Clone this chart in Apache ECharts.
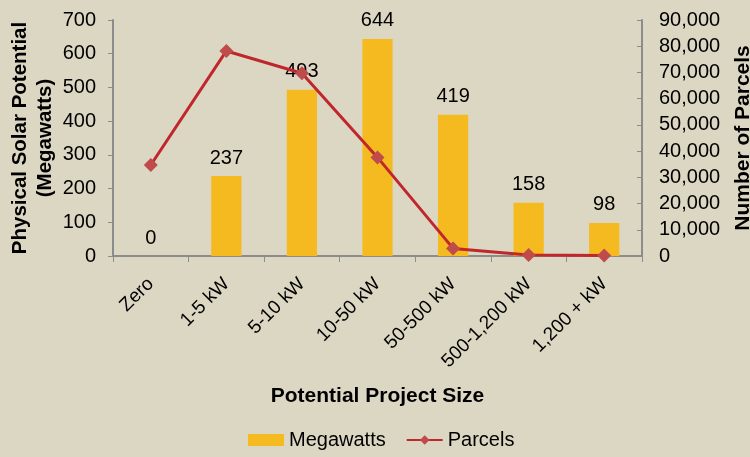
<!DOCTYPE html>
<html>
<head>
<meta charset="utf-8">
<script src="https://cdn.jsdelivr.net/npm/echarts@6/dist/echarts.min.js"></script>
<style>
  html, body { margin: 0; padding: 0; background: #dcd7c3; }
  #chart { width: 750px; height: 457px; }
</style>
</head>
<body>
<div id="chart"></div>
<script>
// chart data
var categories = ["Zero", "1-5 kW", "5-10 kW", "10-50 kW", "50-500 kW", "500-1,200 kW", "1,200 + kW"];
var megawatts = [0, 237, 493, 644, 419, 158, 98];
var parcels = [34700, 78200, 69700, 37600, 2900, 400, 200];

var font = "Liberation Sans, Arial, sans-serif";
var axisColor = "#8c8c8c";

var myChart = echarts.init(document.getElementById("chart"));
var option = {
  backgroundColor: "#dcd7c3",
  textStyle: { fontFamily: font },
  legend: {
    bottom: 2,
    left: 243,
    itemGap: 20,
    itemWidth: 36,
    itemHeight: 12,
    textStyle: { fontSize: 20, color: "#000", fontFamily: font },
    data: [
      { name: "Megawatts", icon: "rect" },
      { name: "Parcels" }
    ]
  },
  grid: {
    left: 113,
    right: 108,
    top: 20,
    bottom: 201,
    containLabel: false,
    outerBoundsMode: "none"
  },
  xAxis: {
    type: "category",
    data: categories,
    name: "Potential Project Size",
    nameLocation: "middle",
    nameGap: 130,
    nameTextStyle: { fontSize: 21, fontWeight: "bold", color: "#000" },
    axisLine: { lineStyle: { color: axisColor, width: 2 } },
    axisTick: { show: true, length: 6, lineStyle: { color: axisColor } },
    axisLabel: {
      rotate: 45,
      fontSize: 19,
      color: "#000",
      margin: 25,
      interval: 0
    }
  },
  yAxis: [
    {
      type: "value",
      min: 0,
      max: 700,
      interval: 100,
      name: "Physical Solar Potential\n(Megawatts)",
      nameLocation: "middle",
      nameGap: 55,
      nameMoveOverlap: false,
      nameTextStyle: { fontSize: 20.5, fontWeight: "bold", color: "#000", lineHeight: 25 },
      axisLine: { show: true, lineStyle: { color: axisColor, width: 2 } },
      axisTick: { show: true, length: 5, lineStyle: { color: axisColor } },
      axisLabel: { fontSize: 20, color: "#000", margin: 17 },
      splitLine: { show: false }
    },
    {
      type: "value",
      min: 0,
      max: 90000,
      interval: 10000,
      name: "Number of Parcels",
      nameLocation: "middle",
      nameGap: 91,
      nameRotate: 90,
      nameTextStyle: { fontSize: 21, fontWeight: "bold", color: "#000" },
      axisLine: { show: true, lineStyle: { color: axisColor, width: 2 } },
      axisTick: { show: true, inside: true, length: 5, lineStyle: { color: axisColor } },
      axisLabel: {
        fontSize: 20,
        color: "#000",
        margin: 17,
        formatter: function (v) { return v.toLocaleString("en-US"); }
      },
      splitLine: { show: false }
    }
  ],
  series: [
    {
      name: "Megawatts",
      type: "bar",
      yAxisIndex: 0,
      barWidth: "40%",
      itemStyle: { color: "#f5ba1f" },
      label: {
        show: true,
        position: "top",
        distance: 8,
        fontSize: 20,
        color: "#000"
      },
      data: megawatts,
      z: 2
    },
    {
      name: "Parcels",
      type: "line",
      yAxisIndex: 1,
      symbol: "diamond",
      symbolSize: 14,
      lineStyle: { color: "#c0272d", width: 3 },
      itemStyle: { color: "#bf4b4b" },
      data: parcels,
      z: 3
    }
  ]
};
myChart.setOption(option, true);
</script>
</body>
</html>
